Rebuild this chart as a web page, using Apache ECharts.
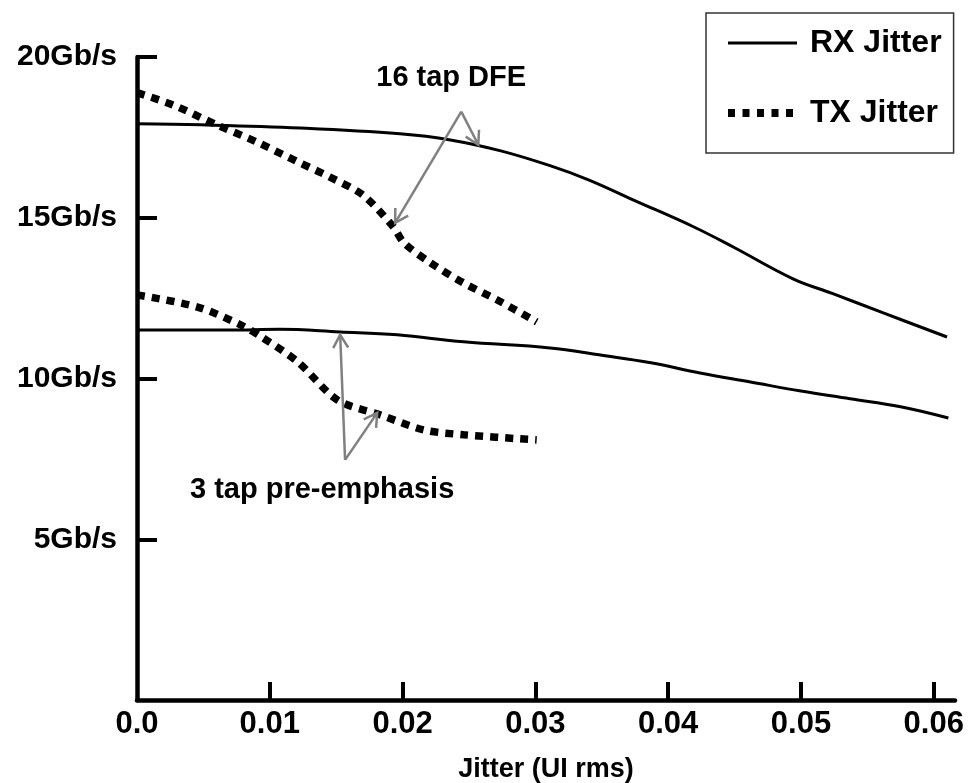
<!DOCTYPE html>
<html>
<head>
<meta charset="utf-8">
<script src="https://cdn.jsdelivr.net/npm/echarts@6/dist/echarts.min.js"></script>
<style>
html,body{margin:0;padding:0;background:#fff;}
#chart{width:969px;height:783px;}
</style>
</head>
<body>
<div id="chart"></div>
<script>
// ---- data (jitter in UI rms, data rate in Gb/s) ----
const rxDfeJitter   = [0, 0.0048, 0.0123, 0.0198, 0.0236, 0.0274, 0.0311, 0.0340, 0.0374, 0.0419, 0.0449, 0.0494, 0.0524, 0.0562, 0.0610];
const rxDfeRate     = [17.92, 17.89, 17.79, 17.61, 17.42, 17.08, 16.62, 16.18, 15.55, 14.72, 14.09, 13.10, 12.64, 12.04, 11.29];
const rxPreJitter   = [0, 0.0070, 0.0107, 0.0153, 0.0196, 0.0246, 0.0311, 0.0349, 0.0387, 0.0424, 0.0462, 0.0500, 0.0537, 0.0575, 0.0611];
const rxPreRate     = [11.51, 11.51, 11.53, 11.45, 11.36, 11.14, 10.95, 10.73, 10.49, 10.17, 9.89, 9.61, 9.37, 9.12, 8.77];
const txDfeJitter   = [0, 0.0027, 0.0060, 0.0090, 0.0121, 0.0145, 0.0170, 0.0193, 0.0201, 0.0221, 0.0246, 0.0271, 0.0301];
const txDfeRate     = [18.89, 18.51, 17.89, 17.36, 16.74, 16.27, 15.71, 14.72, 14.22, 13.60, 12.97, 12.45, 11.76];
const txPreJitter   = [0, 0.0045, 0.0078, 0.0095, 0.0121, 0.0151, 0.0183, 0.0216, 0.0246, 0.0301];
const txPreRate     = [12.60, 12.23, 11.67, 11.26, 10.52, 9.33, 8.87, 8.40, 8.25, 8.09];

const xTickValues = [0, 0.01, 0.02, 0.03, 0.04, 0.05, 0.06];
const xTickLabels = ['0.0', '0.01', '0.02', '0.03', '0.04', '0.05', '0.06'];
const yTickValues = [5, 10, 15, 20];
const yTickLabels = ['5Gb/s', '10Gb/s', '15Gb/s', '20Gb/s'];
const xAxisTitle = 'Jitter (UI rms)';
const seriesNames = ['RX Jitter', 'TX Jitter'];

// annotations: label text/anchor and arrow [apex, tip] in data units
const annoDfeText = '16 tap DFE';
const annoDfeAt = [0.02366, 19.35];
const annoDfeArrows = [[[0.02442, 18.30], [0.01944, 14.84]], [[0.02442, 18.30], [0.0257, 17.27]]];
const annoPreText = '3 tap pre-emphasis';
const annoPreAt = [0.01394, 6.53];
const annoPreArrows = [[[0.01567, 7.47], [0.0153, 11.36]], [[0.01567, 7.47], [0.01809, 8.93]]];

const zip = (xs, ys) => xs.map((x, i) => [x, ys[i]]);
const FONT = 'Liberation Sans, Arial, sans-serif';
const solidStyle = { color: '#000', width: 3, type: 'solid' };
const dotStyle = { color: '#000', width: 7.5, type: [8, 7], cap: 'butt' };

function fmt(values, labels) {
  return function (v) {
    const i = values.findIndex(t => Math.abs(t - v) < 1e-9);
    return i >= 0 ? labels[i] : '';
  };
}

const chart = echarts.init(document.getElementById('chart'), null, { renderer: 'canvas' });
chart.setOption({
  animation: false,
  backgroundColor: '#fff',
  grid: { left: 137, right: 14, top: 57, bottom: 83, containLabel: false, outerBoundsMode: 'none' },
  legend: {
    orient: 'vertical',
    left: 706, top: 13,
    padding: [10, 12, 20, 18],
    itemGap: 30,
    itemWidth: 69, itemHeight: 20,
    borderColor: '#333', borderWidth: 1.5,
    textStyle: { fontFamily: FONT, fontWeight: 'bold', fontSize: 32, color: '#000', lineHeight: 40, padding: [0, 0, 0, 8] },
    data: [
      { name: seriesNames[0], itemStyle: { opacity: 0 }, lineStyle: { width: 3, color: '#000', type: 'solid' } },
      { name: seriesNames[1], itemStyle: { opacity: 0 }, lineStyle: { width: 8, color: '#000', type: [7, 7.5], cap: 'butt' } }
    ]
  },
  xAxis: {
    type: 'value', min: 0, max: 0.0616,
    name: xAxisTitle, nameLocation: 'middle', nameGap: 56,
    nameTextStyle: { fontFamily: FONT, fontWeight: 'bold', fontSize: 27, color: '#000' },
    axisLine: { show: true, lineStyle: { color: '#000', width: 4.5 } },
    axisTick: { show: true, inside: true, length: 18, lineStyle: { color: '#000', width: 4 }, customValues: xTickValues.slice(1) },
    axisLabel: { show: true, margin: 9, fontFamily: FONT, fontWeight: 'bold', fontSize: 31, color: '#000', customValues: xTickValues, formatter: fmt(xTickValues, xTickLabels) },
    splitLine: { show: false }
  },
  yAxis: {
    type: 'value', min: 0, max: 20,
    axisLine: { show: true, lineStyle: { color: '#000', width: 4.5 } },
    axisTick: { show: true, inside: true, length: 20, lineStyle: { color: '#000', width: 4 }, customValues: yTickValues },
    axisLabel: { show: true, margin: 20, fontFamily: FONT, fontWeight: 'bold', fontSize: 30, color: '#000', customValues: yTickValues, formatter: fmt(yTickValues, yTickLabels) },
    splitLine: { show: false }
  },
  series: [
    { name: seriesNames[0], type: 'line', data: zip(rxDfeJitter, rxDfeRate), smooth: 0.4, symbol: 'none', lineStyle: solidStyle, itemStyle: { color: '#000' }, z: 3 },
    { name: seriesNames[0], type: 'line', data: zip(rxPreJitter, rxPreRate), smooth: 0.4, symbol: 'none', lineStyle: solidStyle, itemStyle: { color: '#000' }, z: 3 },
    { name: seriesNames[1], type: 'line', data: zip(txDfeJitter, txDfeRate), smooth: 0.3, symbol: 'none', lineStyle: dotStyle, itemStyle: { color: '#000' }, z: 4 },
    { name: seriesNames[1], type: 'line', data: zip(txPreJitter, txPreRate), smooth: 0.3, symbol: 'none', lineStyle: dotStyle, itemStyle: { color: '#000' }, z: 4 }
  ]
});

// annotations drawn through the grid's coordinate conversion
const px = p => chart.convertToPixel({ gridIndex: 0 }, p);
const ARROW_COLOR = '#808080';
const graphics = [];
function addArrow(a, t) {
  const A = px(a), T = px(t);
  graphics.push({ type: 'line', shape: { x1: A[0], y1: A[1], x2: T[0], y2: T[1] }, style: { stroke: ARROW_COLOR, lineWidth: 2.5 }, z: 10 });
  const dx = T[0] - A[0], dy = T[1] - A[1], L = Math.hypot(dx, dy);
  const ux = dx / L, uy = dy / L, len = 15, ang = 30 * Math.PI / 180;
  const arm = s => [T[0] - len * (ux * Math.cos(ang) - s * uy * Math.sin(ang)), T[1] - len * (uy * Math.cos(ang) + s * ux * Math.sin(ang))];
  graphics.push({ type: 'polyline', shape: { points: [arm(1), T, arm(-1)] }, style: { stroke: ARROW_COLOR, lineWidth: 2.5, fill: null }, z: 10 });
}
annoDfeArrows.forEach(p => addArrow(p[0], p[1]));
annoPreArrows.forEach(p => addArrow(p[0], p[1]));
function addText(txt, at) {
  const P = px(at);
  graphics.push({ type: 'text', x: P[0], y: P[1], style: { text: txt, fontFamily: FONT, fontWeight: 'bold', fontSize: 29, fill: '#000', align: 'center', verticalAlign: 'middle' }, z: 11 });
}
addText(annoDfeText, annoDfeAt);
addText(annoPreText, annoPreAt);
chart.setOption({ graphic: graphics });
</script>
</body>
</html>
